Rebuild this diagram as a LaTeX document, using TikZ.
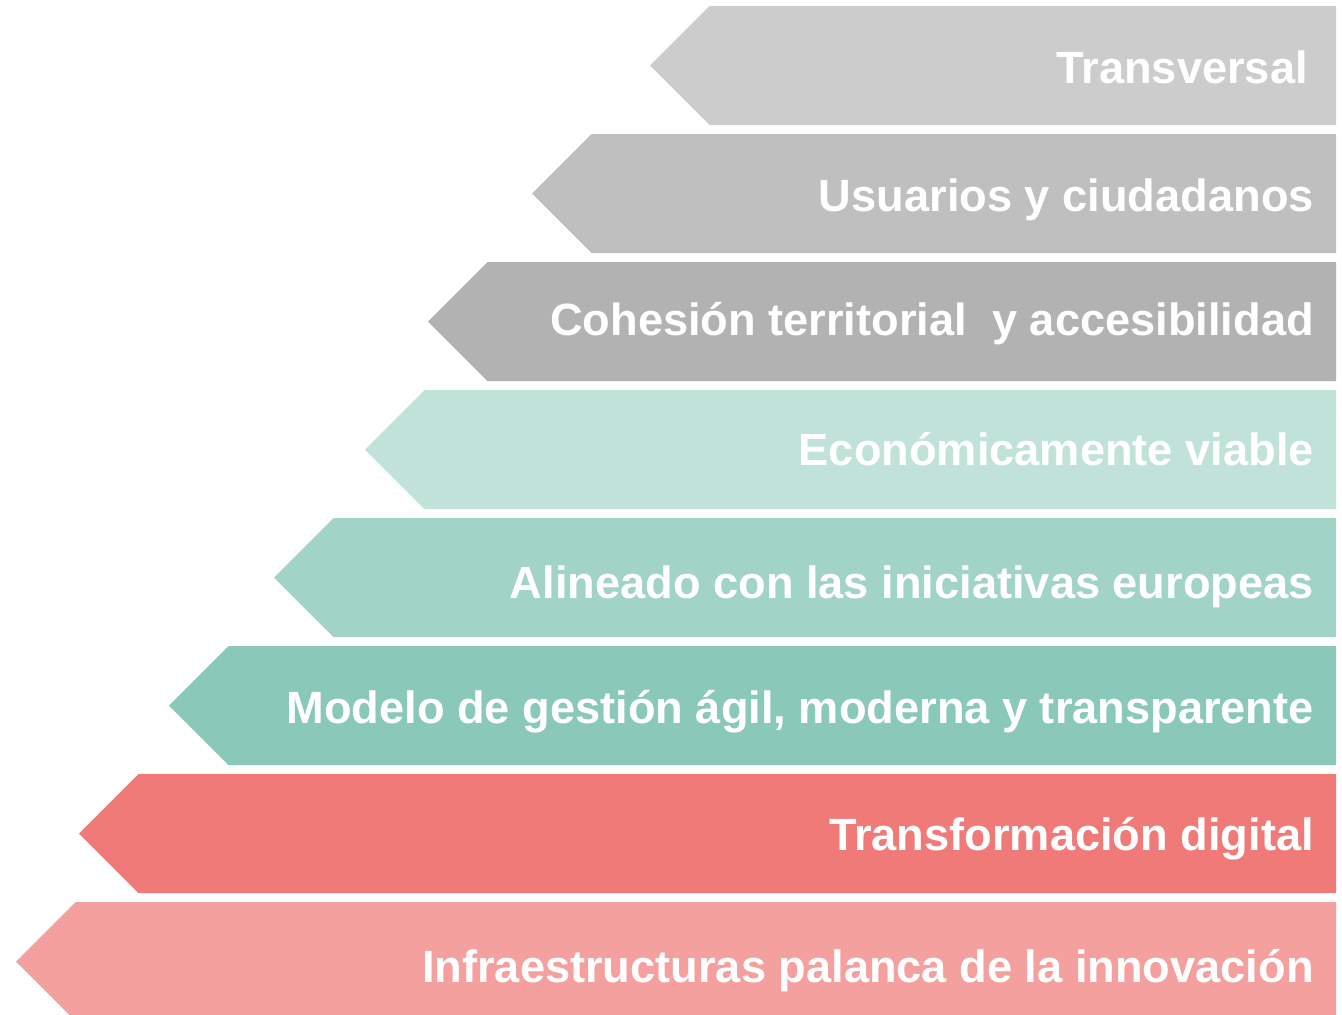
\documentclass[tikz,border=0pt]{standalone}
\usepackage{fontspec}
\setmainfont{Liberation Sans}
\definecolor{cA}{HTML}{CCCCCC}
\definecolor{cB}{HTML}{BFBFBF}
\definecolor{cC}{HTML}{B2B2B2}
\definecolor{cD}{HTML}{C0E2D9}
\definecolor{cE}{HTML}{A1D3C6}
\definecolor{cF}{HTML}{8AC8BA}
\definecolor{cG}{HTML}{F07A78}
\definecolor{cH}{HTML}{F4A09E}
\tikzset{
  lbl/.style={anchor=base east, text=white, font=\fontsize{45.2pt}{50pt}\selectfont\bfseries, inner sep=0pt},
}
\begin{document}
\begin{tikzpicture}[x=1pt,y=-1pt]
\useasboundingbox (0,0) rectangle (1342,1015);
\foreach \tip/\top/\col/\name/\txt/\rx/\bl in {
  650/6/cA/t1/{Transversal}/1308/83,
  532/134/cB/t2/{Usuarios y ciudadanos}/1314/211,
  428/262/cC/t3/{Cohesión territorial\ \ y accesibilidad}/1314/335,
  365/390/cD/t4/{Económicamente viable}/1314/465,
  274/518/cE/t5/{Alineado con las iniciativas europeas}/1314/598,
  169/646/cF/t6/{Modelo de gestión ágil, moderna y transparente}/1314/723,
  79/774/cG/t7/{Transformación digital}/1314/850,
  16/902/cH/t8/{Infraestructuras palanca de la innovación}/1314/982}{
  \fill[\col] (\tip,\top+59.5) -- (\tip+59.5,\top) -- (1336,\top) -- (1336,\top+119) -- (\tip+59.5,\top+119) -- cycle;
  \node[lbl] (\name) at (\rx,\bl) {\txt};
}
\end{tikzpicture}
\end{document}
